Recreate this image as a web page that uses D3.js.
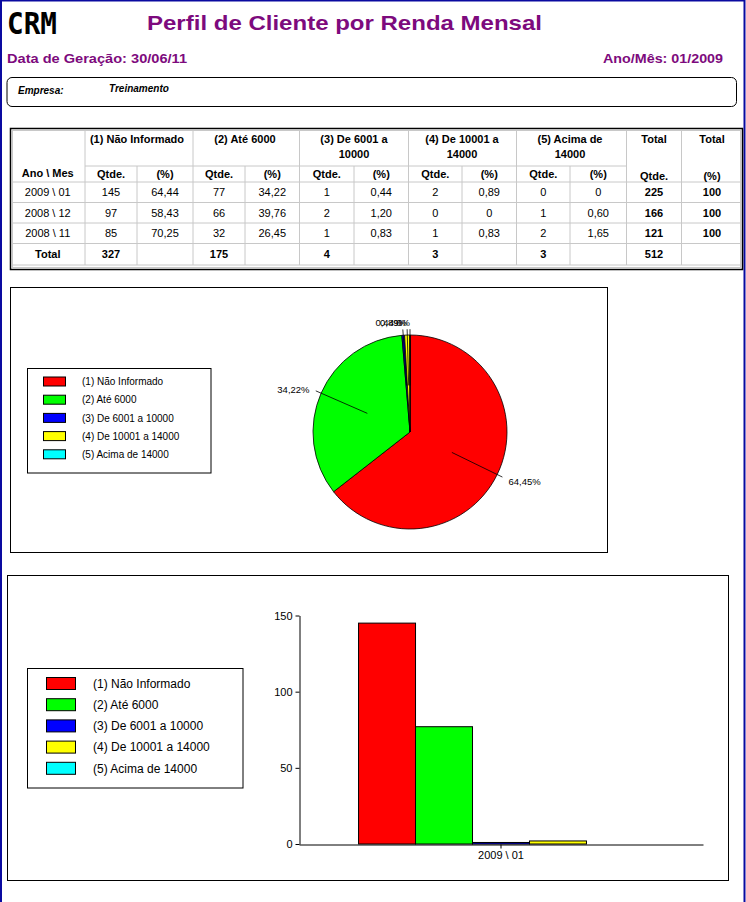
<!DOCTYPE html>
<html>
<head>
<meta charset="utf-8">
<script src="https://cdn.jsdelivr.net/npm/d3@7"></script>
<style>
  body { margin: 0; background: #fff; }
  svg { display: block; font-family: "Liberation Sans", Arial, sans-serif; }
</style>
</head>
<body>
<svg id="report"></svg>
<script>
const w = 746;
const h = 902;

// data
const categories = ['(1) Não Informado', '(2) Até 6000', '(3) De 6001 a 10000', '(4) De 10001 a 14000', '(5) Acima de 14000'];
const headerLines = [['(1) Não Informado'], ['(2) Até 6000'], ['(3) De 6001 a', '10000'], ['(4) De 10001 a', '14000'], ['(5) Acima de', '14000']];
const colors = ['#ff0000', '#00ff00', '#0000ff', '#ffff00', '#00ffff'];
const periods = ['2009 \\ 01', '2008 \\ 12', '2008 \\ 11'];
const qtde = [
  [145, 77, 1, 2, 0],
  [97, 66, 2, 0, 1],
  [85, 32, 1, 1, 2]
];
const pct = [
  ['64,44', '34,22', '0,44', '0,89', '0'],
  ['58,43', '39,76', '1,20', '0', '0,60'],
  ['70,25', '26,45', '0,83', '0,83', '1,65']
];
const rowTotals = [225, 166, 121];
const rowPct = [100, 100, 100];
const colTotals = [327, 175, 4, 3, 3];
const grandTotal = 512;
const pieValues = [145, 77, 1, 2, 0];
const pieLabels = ['64,45%', '34,22%', '0,44%', '0,89%', '0%'];
const barPeriod = ['2009 \\ 01'];
const barValues = [145, 77, 1, 2, 0];
const yTicks = [0, 50, 100, 150];

const purple = '#7d0a7d';

const svg = d3.select('#report')
  .attr('width', w)
  .attr('height', h)
  .attr('viewBox', [0, 0, w, h]);

// window frame
svg.append('rect').attr('x', 0).attr('y', 0).attr('width', 2).attr('height', h).attr('fill', '#0a0aa0');
svg.append('rect').attr('x', 0).attr('y', 0).attr('width', 745).attr('height', 1.5).attr('fill', '#0a0aa0');
svg.append('rect').attr('x', 743.5).attr('y', 0).attr('width', 2).attr('height', h).attr('fill', '#0a0aa0');

// ---------- header ----------
svg.append('text')
  .attr('x', 7).attr('y', 34)
  .attr('font-family', '"DejaVu Sans Mono", monospace')
  .attr('font-weight', 'bold')
  .attr('font-size', 31)
  .attr('textLength', 50)
  .attr('lengthAdjust', 'spacingAndGlyphs')
  .text('CRM');

svg.append('text')
  .attr('x', 147).attr('y', 30)
  .attr('font-weight', 'bold')
  .attr('font-size', 21)
  .attr('fill', purple)
  .attr('textLength', 395)
  .attr('lengthAdjust', 'spacingAndGlyphs')
  .text('Perfil de Cliente por Renda Mensal');

svg.append('text')
  .attr('x', 7).attr('y', 63)
  .attr('font-weight', 'bold').attr('font-size', 13).attr('fill', purple)
  .attr('textLength', 180)
  .attr('lengthAdjust', 'spacingAndGlyphs')
  .text('Data de Geração: 30/06/11');

svg.append('text')
  .attr('x', 603).attr('y', 63)
  .attr('font-weight', 'bold').attr('font-size', 13).attr('fill', purple)
  .attr('textLength', 120)
  .attr('lengthAdjust', 'spacingAndGlyphs')
  .text('Ano/Mês: 01/2009');

svg.append('rect')
  .attr('x', 7).attr('y', 77.5).attr('width', 729.5).attr('height', 29)
  .attr('rx', 5).attr('fill', 'none').attr('stroke', '#000');
svg.append('text')
  .attr('x', 18).attr('y', 94)
  .attr('font-weight', 'bold').attr('font-style', 'italic').attr('font-size', 10)
  .text('Empresa:');
svg.append('text')
  .attr('x', 109).attr('y', 92)
  .attr('font-weight', 'bold').attr('font-style', 'italic').attr('font-size', 10)
  .text('Treinamento');

// ---------- table ----------
function drawTable() {
  const g = svg.append('g');
  const left = 10.5, right = 742.5, top = 128.5, bottom = 269.5;
  const colX = [left, 85, 137, 193, 245, 299.5, 354, 408.5, 462, 516.5, 570, 626.5, 681.5, right];
  const rowEdges = [166, 182, 202.5, 223, 243.5, 265];
  const grid = '#c8c8c8';
  const cx = i => (colX[i] + colX[i + 1]) / 2;

  g.append('rect')
    .attr('x', left).attr('y', top)
    .attr('width', right - left).attr('height', bottom - top)
    .attr('fill', 'none').attr('stroke', '#000').attr('stroke-width', 1.5);
  g.append('rect')
    .attr('x', left + 2).attr('y', top + 2)
    .attr('width', right - left - 4).attr('height', bottom - top - 4)
    .attr('fill', 'none').attr('stroke', grid);

  // horizontal grid
  g.append('line')
    .attr('x1', colX[1]).attr('x2', colX[11])
    .attr('y1', 166).attr('y2', 166).attr('stroke', grid);
  g.selectAll('line.h')
    .data(rowEdges.slice(1))
    .enter().append('line')
    .attr('x1', left + 2).attr('x2', right - 2)
    .attr('y1', d => d).attr('y2', d => d)
    .attr('stroke', grid);

  // vertical grid
  const fullCols = [1, 3, 5, 7, 9, 11, 12];
  const innerCols = [2, 4, 6, 8, 10];
  g.selectAll('line.vf')
    .data(fullCols).enter().append('line')
    .attr('x1', i => colX[i]).attr('x2', i => colX[i])
    .attr('y1', top + 2).attr('y2', 265).attr('stroke', grid);
  g.selectAll('line.vi')
    .data(innerCols).enter().append('line')
    .attr('x1', i => colX[i]).attr('x2', i => colX[i])
    .attr('y1', 166).attr('y2', 265).attr('stroke', grid);

  const txt = (x, y, s, bold) => g.append('text')
    .attr('x', x).attr('y', y)
    .attr('text-anchor', 'middle')
    .attr('font-size', 11)
    .attr('font-weight', bold ? 'bold' : 'normal')
    .text(s);

  // group headers
  headerLines.forEach((lines, k) => {
    const x = colX[1 + 2 * k + 1];
    lines.forEach((s, j) => txt(x, 143 + j * 15, s, true));
  });
  txt(cx(11), 143, 'Total', true);
  txt(cx(12), 143, 'Total', true);

  const sub = (rowEdges[0] + rowEdges[1]) / 2 + 4;
  txt(cx(0), sub - 1, 'Ano \\ Mes', true);
  categories.forEach((c, k) => {
    txt(cx(1 + 2 * k), sub, 'Qtde.', true);
    txt(cx(2 + 2 * k), sub, '(%)', true);
  });
  txt(cx(11), sub + 2, 'Qtde.', true);
  txt(cx(12), sub + 2, '(%)', true);

  periods.forEach((p, r) => {
    const y = (rowEdges[r + 1] + rowEdges[r + 2]) / 2 + 4;
    txt(cx(0), y, p, false);
    qtde[r].forEach((v, k) => {
      txt(cx(1 + 2 * k), y, v, false);
      txt(cx(2 + 2 * k), y, pct[r][k], false);
    });
    txt(cx(11), y, rowTotals[r], true);
    txt(cx(12), y, rowPct[r], true);
  });

  const ty = (rowEdges[4] + rowEdges[5]) / 2 + 4;
  txt(cx(0), ty, 'Total', true);
  colTotals.forEach((v, k) => txt(cx(1 + 2 * k), ty, v, true));
  txt(cx(11), ty, grandTotal, true);
}
drawTable();

// ---------- legends ----------
function drawLegend(x, y, bw, bh, sw, sh, rowStep, first, textX, fontSize) {
  const g = svg.append('g');
  g.append('rect')
    .attr('x', x).attr('y', y).attr('width', bw).attr('height', bh)
    .attr('fill', '#fff').attr('stroke', '#000');
  const items = g.selectAll('g.item')
    .data(categories).enter().append('g')
    .attr('transform', (d, i) => `translate(0, ${first + i * rowStep})`);
  items.append('rect')
    .attr('x', sw[0]).attr('y', -sh / 2)
    .attr('width', sw[1] - sw[0]).attr('height', sh)
    .attr('fill', (d, i) => colors[i]).attr('stroke', '#000');
  items.append('text')
    .attr('x', textX).attr('y', fontSize * 0.36)
    .attr('font-size', fontSize)
    .text(d => d);
}

// ---------- pie ----------
function drawPie() {
  svg.append('rect')
    .attr('x', 10.5).attr('y', 287.5).attr('width', 597).attr('height', 265)
    .attr('fill', 'none').attr('stroke', '#000');

  drawLegend(27.5, 368.5, 183.5, 104.5, [43.5, 65.5], 9, 18.2, 381.5, 82, 10);

  const cxp = 410, cyp = 432, r = 97;
  const pie = d3.pie().sort(null).value(d => d);
  const arcs = pie(pieValues);
  const arc = d3.arc().innerRadius(0).outerRadius(r);
  const g = svg.append('g').attr('transform', `translate(${cxp}, ${cyp})`);

  g.selectAll('path')
    .data(arcs).enter().append('path')
    .attr('d', arc)
    .attr('fill', (d, i) => colors[i])
    .attr('stroke', '#000')
    .attr('stroke-width', 0.8);

  const mid = d => (d.startAngle + d.endAngle) / 2;
  const pt = (a, k) => [Math.sin(a) * r * k, -Math.cos(a) * r * k];

  g.selectAll('line.lead')
    .data(arcs).enter().append('line')
    .attr('x1', d => pt(mid(d), 0.48)[0]).attr('y1', d => pt(mid(d), 0.48)[1])
    .attr('x2', d => pt(mid(d), 1.06)[0]).attr('y2', d => pt(mid(d), 1.06)[1])
    .attr('stroke', '#000').attr('stroke-width', 0.8);

  // labels of tiny slices pile up at the top, as in the original report
  g.selectAll('text.lab')
    .data(arcs).enter().append('text')
    .attr('x', d => pt(mid(d), 1.13)[0])
    .attr('y', d => pt(mid(d), 1.13)[1] + 2 * Math.abs(Math.sin(mid(d))))
    .attr('dy', '0.35em')
    .attr('text-anchor', d => Math.sin(mid(d)) > 0.01 ? 'start' : 'end')
    .attr('font-size', 9.5)
    .text((d, i) => pieLabels[i]);
}
drawPie();

// ---------- bars ----------
function drawBars() {
  svg.append('rect')
    .attr('x', 7.5).attr('y', 575.5).attr('width', 721).attr('height', 305)
    .attr('fill', 'none').attr('stroke', '#000');

  drawLegend(27.5, 668.5, 215.5, 119.5, [46.5, 75.5], 12, 21.2, 683.5, 93, 12);

  const x0 = d3.scaleBand().domain(barPeriod).range([299, 703]).paddingInner(0).paddingOuter(0.209);
  const x1 = d3.scaleBand().domain(categories).range([0, x0.bandwidth()]);
  const y = d3.scaleLinear().domain([0, 150]).range([844, 615.5]);

  svg.append('g')
    .selectAll('rect')
    .data(barValues).enter().append('rect')
    .attr('x', (d, i) => x0(barPeriod[0]) + x1(categories[i]))
    .attr('y', d => y(d))
    .attr('width', x1.bandwidth())
    .attr('height', d => y(0) - y(d))
    .attr('fill', (d, i) => colors[i])
    .attr('stroke', '#000')
    .attr('stroke-width', 1);

  const yAxis = svg.append('g')
    .attr('transform', 'translate(299.5, 0)')
    .call(d3.axisLeft(y).tickValues(yTicks).tickSize(4).tickSizeOuter(0).tickPadding(3));
  const xAxis = svg.append('g')
    .attr('transform', 'translate(0, 844.5)')
    .call(d3.axisBottom(x0).tickSize(4).tickSizeOuter(0).tickPadding(3));

  [yAxis, xAxis].forEach(a => {
    a.selectAll('text')
      .attr('font-family', '"Liberation Sans", Arial, sans-serif')
      .attr('font-size', 11)
      .attr('fill', '#000');
    a.selectAll('path, line').attr('stroke', '#000');
  });
}
drawBars();
</script>
</body>
</html>
